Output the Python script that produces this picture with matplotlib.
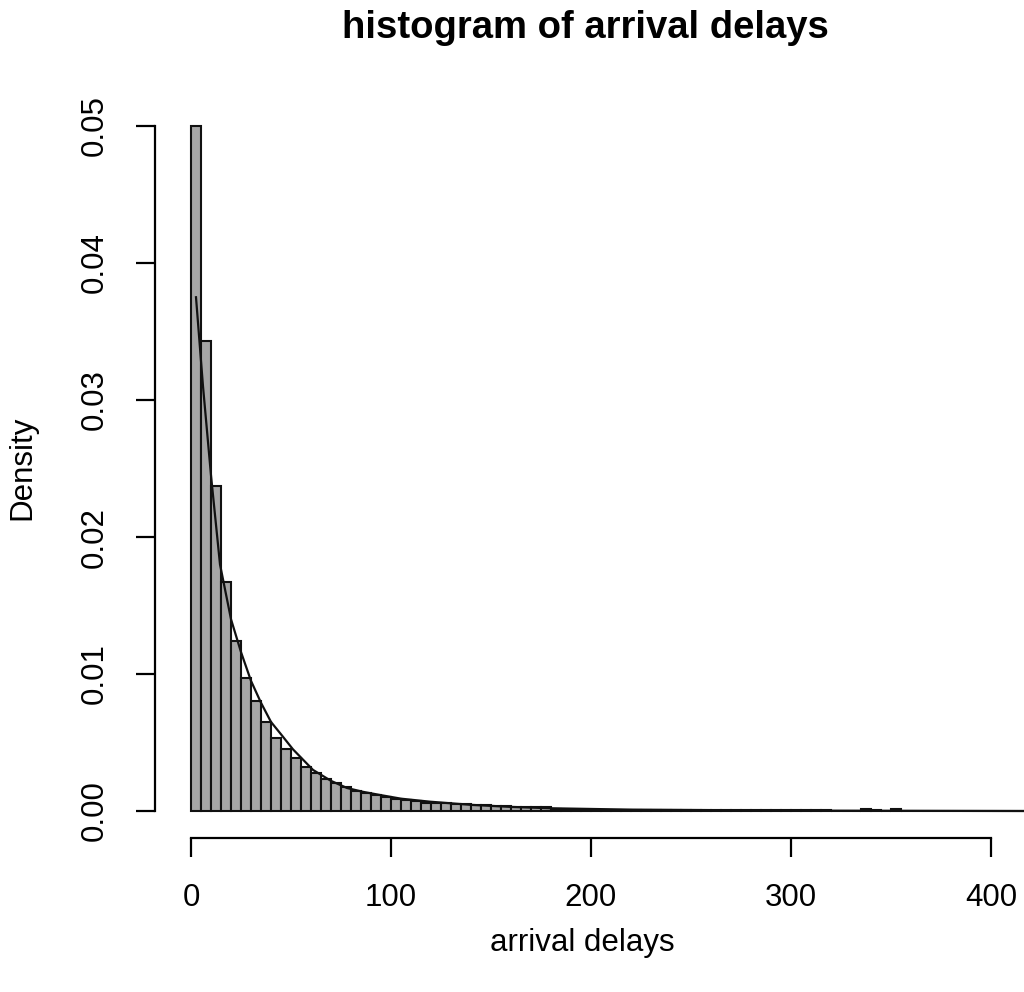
import matplotlib.pyplot as plt
import numpy as np

plt.rcParams['font.family'] = ['Liberation Sans', 'DejaVu Sans']

# Histogram: bins of width 5 from 0, density
bin_width = 5
density = [
    0.0500, 0.0343, 0.0237, 0.0167, 0.0124, 0.0097, 0.0080, 0.0065, 0.0053, 0.0045,
    0.00385, 0.00322, 0.00276, 0.00232, 0.00203, 0.00175, 0.00148, 0.00132, 0.00114, 0.00099,
    0.00088, 0.00080, 0.00072, 0.00062, 0.00058, 0.00055, 0.00052, 0.00049, 0.00046, 0.00042,
    0.00036, 0.00034, 0.00032, 0.00030, 0.00028, 0.00026, 0.00012, 0.00011, 0.00010, 0.00010,
    0.00009, 0.00009, 0.00008, 0.00008, 0.00008, 0.00007, 0.00007, 0.00007, 0.00006, 0.00006,
    0.00006, 0.00006, 0.00005, 0.00005, 0.00005, 0.00005, 0.00005, 0.00004, 0.00004, 0.00004,
    0.00004, 0.00004, 0.00004, 0.00004, 0.00003, 0.00003, 0.00003, 0.00012, 0.00004, 0.00003,
    0.00012, 0.00003, 0.00002, 0.00002, 0.00002, 0.00001, 0.00001, 0.00001, 0.00001, 0.00001,
    0.00001, 0.00001, 0.00001, 0.00001,
]
bin_left = np.arange(len(density)) * bin_width

# fitted density curve
curve_x = [2.5, 6, 10, 14.5, 20, 25, 30, 35, 40, 45, 51, 61, 70, 78, 86,
           94.5, 105, 119.5, 140, 160, 180, 220, 300, 420]
curve_y = [0.0375, 0.0310, 0.0245, 0.0180, 0.0140, 0.0116, 0.0095,
           0.0079, 0.0065, 0.0056, 0.0045, 0.0030, 0.0022, 0.00168, 0.0014,
           0.00117, 0.0009, 0.00068, 0.00045, 0.0003, 0.0002, 0.0001, 0.00003, 0.0]

x_ticks = [0, 100, 200, 300, 400]
y_ticks = [0.00, 0.01, 0.02, 0.03, 0.04, 0.05]

W, H = 1024, 992
fig = plt.figure(figsize=(W / 100, H / 100), dpi=100)
ax = fig.add_axes([155 / W, (H - 838) / H, (W - 155) / W, (838 - 99) / H])

ax.bar(bin_left, density, width=bin_width, align='edge',
       color='#a6a6a6', edgecolor='#111111', linewidth=1.5)
ax.plot(curve_x, curve_y, color='#111111', linewidth=1.6)

ax.set_xlim(-18, 416.5)
ax.set_ylim(-0.00197, 0.05197)

for s in ['top', 'right']:
    ax.spines[s].set_visible(False)
ax.spines['left'].set_bounds(0, 0.05)
ax.spines['bottom'].set_bounds(0, 400)
ax.spines['left'].set_linewidth(1.6)
ax.spines['bottom'].set_linewidth(1.6)

ax.set_xticks(x_ticks)
ax.set_xticklabels([str(t) for t in x_ticks])
ax.set_yticks(y_ticks)
ax.set_yticklabels([f"{t:.2f}" for t in y_ticks], rotation=90, va='center')
ax.tick_params(axis='both', direction='out', length=13.5, width=1.6,
               labelsize=22.5, pad=19)

fig.text(585 / W, 1 - 28 / H, "histogram of arrival delays",
         ha='center', va='center', fontsize=27.5, fontweight='bold')
fig.text(582 / W, 1 - 943 / H, "arrival delays",
         ha='center', va='center', fontsize=22.5)
fig.text(22 / W, 1 - 468 / H, "Density", rotation=90,
         ha='center', va='center', fontsize=22.5)

fig.savefig("out.png", dpi=100)
